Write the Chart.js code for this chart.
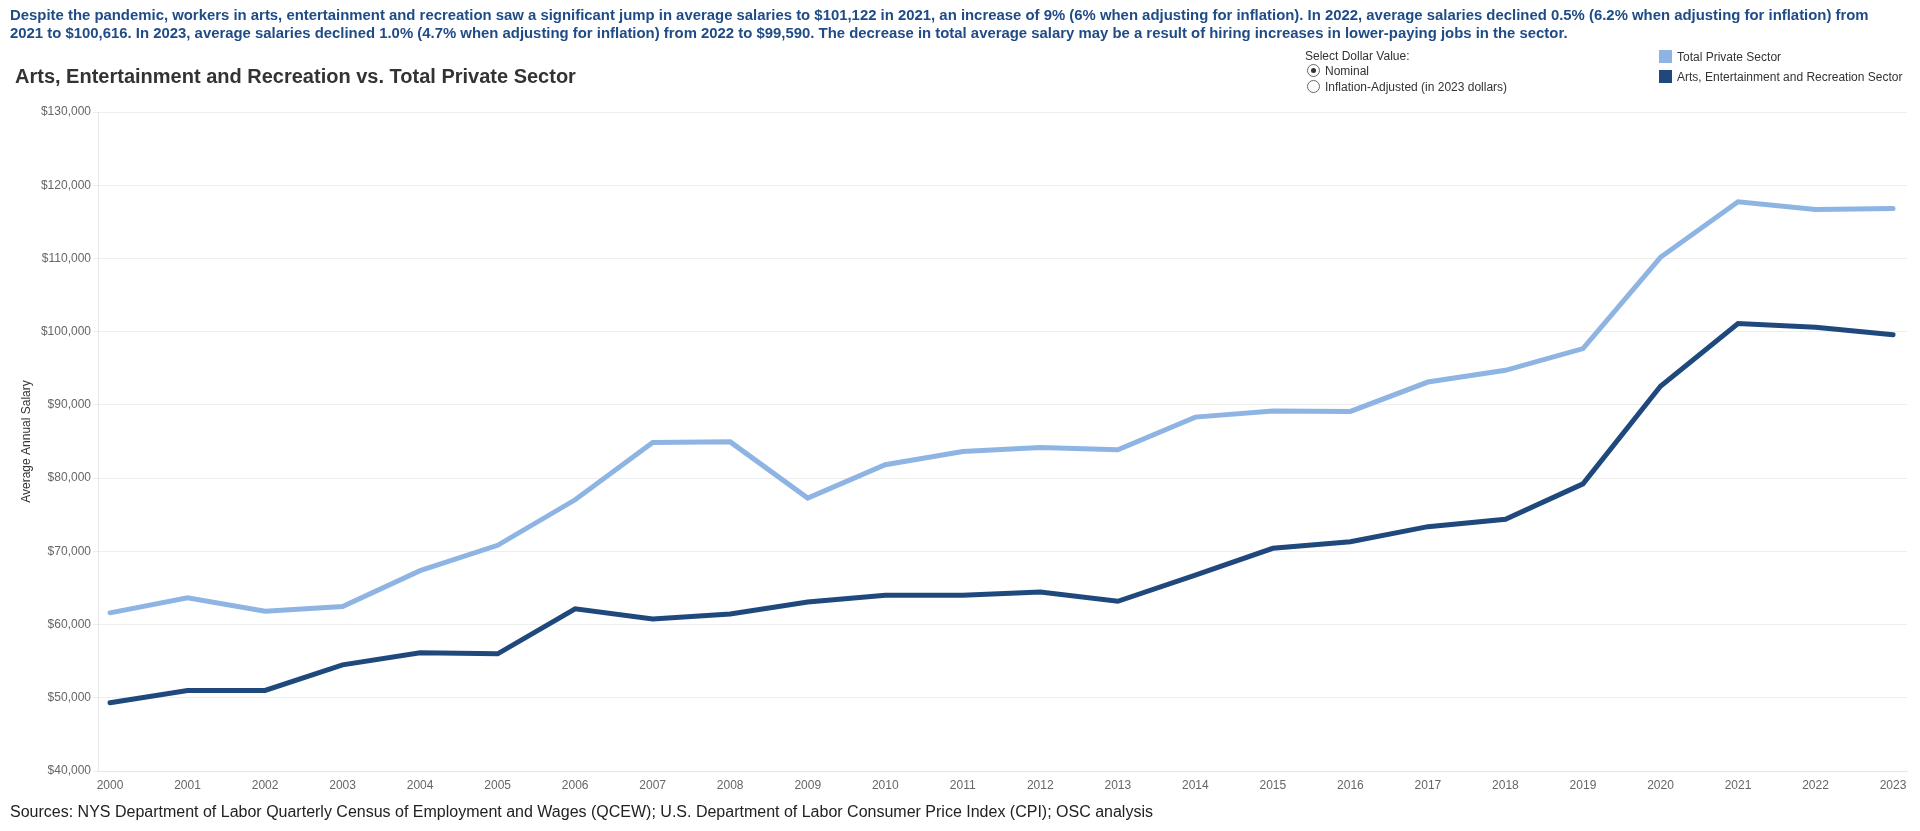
<!DOCTYPE html>
<html>
<head>
<meta charset="utf-8">
<script src="https://cdn.jsdelivr.net/npm/chart.js@4.4.1/dist/chart.umd.min.js"></script>
<style>
    html, body { margin: 0; padding: 0; background: #fff; }
    body { width: 1920px; height: 831px; position: relative; overflow: hidden; font-family: 'Liberation Sans', Arial, sans-serif; }
    #chartWrap { position: absolute; left: 0; top: 0; width: 1920px; height: 831px; }
    .abs { position: absolute; white-space: nowrap; }
    #intro { left: 10px; top: 6px; font-size: 14.9px; line-height: 18px; font-weight: bold; color: #1f4b86; }
    #title { left: 15px; top: 65px; font-size: 20px; line-height: 22px; font-weight: bold; color: #333; }
    #sources { left: 10px; top: 803px; font-size: 16px; line-height: 18px; color: #222; }
    .small { font-size: 12px; line-height: 14px; color: #333; }
    .radio { position: absolute; width: 11px; height: 11px; border: 1px solid #666; border-radius: 50%; background: #fff; }
    .radio.on::after { content: ''; position: absolute; left: 3px; top: 3px; width: 5px; height: 5px; border-radius: 50%; background: #333; }
    .swatch { position: absolute; width: 13px; height: 13px; }
</style>
</head>
<body>
<div id="chartWrap"><canvas id="salaryChart" width="1920" height="831"></canvas></div>

<div id="intro" class="abs">Despite the pandemic, workers in arts, entertainment and recreation saw a significant jump in average salaries to $101,122 in 2021, an increase of 9% (6% when adjusting for inflation). In 2022, average salaries declined 0.5% (6.2% when adjusting for inflation) from<br>2021 to $100,616. In 2023, average salaries declined 1.0% (4.7% when adjusting for inflation) from 2022 to $99,590. The decrease in total average salary may be a result of hiring increases in lower-paying jobs in the sector.</div>
<div id="title" class="abs">Arts, Entertainment and Recreation vs. Total Private Sector</div>

<div class="abs small" style="left:1305px; top:49px;">Select Dollar Value:</div>
<span class="radio on" style="left:1307px; top:64px;"></span>
<div class="abs small" style="left:1325px; top:64px;">Nominal</div>
<span class="radio" style="left:1307px; top:80px;"></span>
<div class="abs small" style="left:1325px; top:80px;">Inflation-Adjusted (in 2023 dollars)</div>

<span class="swatch" id="sw1" style="left:1659px; top:50px;"></span>
<div class="abs small" style="left:1677px; top:50px;">Total Private Sector</div>
<span class="swatch" id="sw2" style="left:1659px; top:70px;"></span>
<div class="abs small" style="left:1677px; top:70px;">Arts, Entertainment and Recreation Sector</div>

<div id="sources" class="abs">Sources: NYS Department of Labor Quarterly Census of Employment and Wages (QCEW); U.S. Department of Labor Consumer Price Index (CPI); OSC analysis</div>

<script>
const years = [2000, 2001, 2002, 2003, 2004, 2005, 2006, 2007, 2008, 2009, 2010, 2011,
    2012, 2013, 2014, 2015, 2016, 2017, 2018, 2019, 2020, 2021, 2022, 2023];

const totalPrivate = [61600, 63640, 61820, 62450, 67360, 70820, 77040, 84860, 84950, 77270, 81820, 83630,
    84180, 83860, 88330, 89150, 89110, 93120, 94720, 97680, 110160, 117740, 116700, 116830];

const artsRec = [49320, 51000, 51000, 54500, 56140, 56000, 62140, 60770, 61450, 63090, 64000, 64000,
    64450, 63180, 66760, 70410, 71320, 73370, 74380, 79210, 92540, 101122, 100616, 99590];

const seriesNames = ['Total Private Sector', 'Arts, Entertainment and Recreation Sector'];
const lightBlue = '#8eb4e3';
const darkBlue = '#1f497d';

document.getElementById('sw1').style.background = lightBlue;
document.getElementById('sw2').style.background = darkBlue;

Chart.defaults.font.family = "'Liberation Sans', Arial, sans-serif";

const toPoints = vals => vals.map((v, i) => ({ x: years[i], y: v }));

const ctx = document.getElementById('salaryChart').getContext('2d');
const chart = new Chart(ctx, {
    type: 'line',
    data: {
        datasets: [
            {
                label: seriesNames[0],
                data: toPoints(totalPrivate),
                borderColor: lightBlue,
                borderWidth: 5,
                borderCapStyle: 'round',
                pointRadius: 0,
                tension: 0
            },
            {
                label: seriesNames[1],
                data: toPoints(artsRec),
                borderColor: darkBlue,
                borderWidth: 5,
                borderCapStyle: 'round',
                pointRadius: 0,
                tension: 0
            }
        ]
    },
    options: {
        responsive: false,
        animation: false,
        layout: { padding: { left: 0, right: 13, top: 112, bottom: 30 } },
        plugins: {
            legend: { display: false },
            tooltip: { enabled: false }
        },
        scales: {
            x: {
                type: 'linear',
                min: 1999.845,
                max: 2023.18,
                grid: { display: false, drawTicks: false },
                border: { display: true, color: '#e6e6e6' },
                ticks: {
                    stepSize: 1,
                    includeBounds: false,
                    autoSkip: false,
                    maxRotation: 0,
                    padding: 7,
                    color: '#666',
                    font: { size: 12 },
                    callback: v => String(v)
                },
                afterFit: scale => { scale.height = 30; }
            },
            y: {
                min: 40000,
                max: 130000,
                grid: { color: '#eeeeee', lineWidth: 1, drawTicks: true, tickLength: 5 },
                border: { display: true, color: '#e8e8e8' },
                ticks: {
                    stepSize: 10000,
                    padding: 2,
                    color: '#666',
                    font: { size: 12 },
                    callback: v => '$' + v.toLocaleString('en-US')
                },
                title: {
                    display: true,
                    text: 'Average Annual Salary',
                    color: '#333',
                    font: { size: 12 },
                    padding: { top: 19, bottom: 0 }
                },
                afterFit: scale => { scale.width = 98; }
            }
        }
    }
});
</script>
</body>
</html>
